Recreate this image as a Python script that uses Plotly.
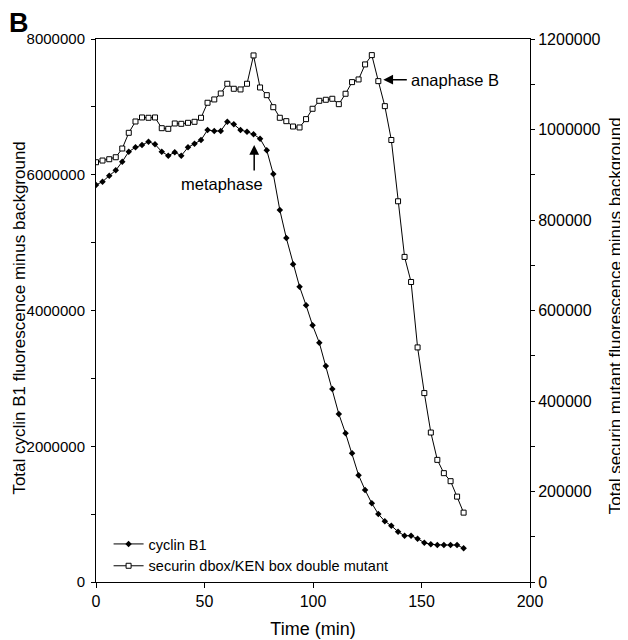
import plotly.graph_objects as go

# time points (min), one frame roughly every 3 min
time_min = [0, 3, 6.1, 9.1, 12.1, 15.1, 18.2, 21.2, 24.2, 27.2, 30.3, 33.3, 36.3, 39.3,
            42.4, 45.4, 48.4, 51.4, 54.5, 57.5, 60.5, 63.5, 66.6, 69.6, 72.6, 75.6, 78.7,
            81.7, 84.7, 87.7, 90.8, 93.8, 96.8, 99.8, 102.9, 105.9, 108.9, 111.9, 115.0,
            118.0, 121.0, 124.0, 127.1, 130.1, 133.1, 136.1, 139.2, 142.2, 145.2, 148.2,
            151.3, 154.3, 157.3, 160.3, 163.4, 166.4, 169.4]

cyclin_b1 = [5849000, 5898000, 5986000, 6065000, 6193000, 6340000, 6404000, 6438000,
             6487000, 6448000, 6340000, 6281000, 6331000, 6281000, 6404000, 6458000,
             6512000, 6659000, 6645000, 6645000, 6782000, 6743000, 6659000, 6634000,
             6596000, 6531000, 6360000, 6010000, 5481000, 5068000, 4681000, 4351000,
             4077000, 3782000, 3526000, 3182000, 2845000, 2475000, 2191000, 1896000,
             1574000, 1355000, 1159000, 1002000, 894000, 829000, 741000, 682000,
             682000, 638000, 579000, 555000, 545000, 545000, 545000, 545000, 496000]

securin_mutant = [927700, 931400, 934300, 938700, 958000, 992700, 1017700, 1026600,
                  1025900, 1026600, 1002900, 1001500, 1013300, 1012600, 1014800, 1017000,
                  1025900, 1059100, 1066400, 1079600, 1101100, 1090000, 1088500, 1101100,
                  1163700, 1092900, 1075900, 1049300, 1025900, 1018400, 1006600, 1004500,
                  1022900, 1045800, 1063400, 1065700, 1067900, 1056000, 1079000, 1104700,
                  1110600, 1143800, 1164400, 1106900, 1051600, 976800, 841400, 718400,
                  663000, 518400, 417500, 330300, 269900, 240500, 222800, 188700, 153300]

FONT = "Liberation Sans"

fig = go.Figure()

fig.add_trace(go.Scatter(x=time_min, y=cyclin_b1, name="cyclin B1", mode="lines+markers",
                         line=dict(color="black", width=1),
                         marker=dict(symbol="diamond", size=5, color="black")))

fig.add_trace(go.Scatter(x=time_min, y=securin_mutant, name="securin dbox/KEN box double mutant",
                         mode="lines+markers", yaxis="y2",
                         line=dict(color="black", width=1),
                         marker=dict(symbol="square", size=5, color="white",
                                     line=dict(color="black", width=1))))

# the page body adds 8px, so the margins are shifted by that
fig.update_layout(
    width=628, height=640,
    margin=dict(l=88, r=106, t=31, b=66),
    plot_bgcolor="white", paper_bgcolor="white",
    font=dict(family=FONT, size=15, color="black"),
    showlegend=True,
    legend=dict(x=0.029, y=0.0, xanchor="left", yanchor="bottom",
                bgcolor="rgba(0,0,0,0)", font=dict(size=14.5), tracegroupgap=0),
    xaxis=dict(range=[0, 200], tickvals=[0, 50, 100, 150, 200], showgrid=False, zeroline=False,
               showline=True, linecolor="black", linewidth=1, mirror=True, automargin=False,
               ticks="outside", ticklen=5, tickcolor="black", tickfont=dict(size=16),
               title=dict(text="Time (min)", standoff=13)),
    yaxis=dict(range=[0, 8000000], dtick=2000000, tickformat="d", showgrid=False, zeroline=False,
               showline=True, linecolor="black", linewidth=1, automargin=False,
               ticks="outside", ticklen=4, tickcolor="black", tickfont=dict(size=15),
               ticklabelstandoff=3,
               minor=dict(dtick=1000000, ticks="outside", ticklen=4, tickcolor="black")),
    yaxis2=dict(range=[0, 1200000], dtick=200000, tickformat="d", overlaying="y", side="right",
                showgrid=False, zeroline=False, automargin=False,
                showline=True, linecolor="black", linewidth=1,
                ticks="outside", ticklen=4, tickcolor="black", tickfont=dict(size=16),
                minor=dict(dtick=100000, ticks="outside", ticklen=4, tickcolor="black")),
)

# y-axis titles as rotated annotations so they can sit right at the edges
fig.add_annotation(text="Total cyclin B1 fluorescence minus background", textangle=-90,
                   xref="paper", yref="paper", x=-0.2028, y=0.486, xanchor="left", yanchor="middle",
                   showarrow=False, font=dict(family=FONT, size=17, color="black"))
fig.add_annotation(text="Total securin mutant fluorescence minus background", textangle=-90,
                   xref="paper", yref="paper", x=1.199, y=0.49, xanchor="center", yanchor="middle",
                   showarrow=False, font=dict(family=FONT, size=17, color="black"))

# panel letter
fig.add_annotation(text="<b>B</b>", xref="paper", yref="paper", x=-0.205, y=1.06,
                   xanchor="left", yanchor="top", showarrow=False,
                   font=dict(size=27, family=FONT))

# metaphase arrow + label
fig.add_annotation(x=72.9, y=6438000, xref="x", yref="y", text="", showarrow=True,
                   ax=0, ay=27, arrowhead=2, arrowsize=1.3, arrowwidth=1.5, arrowcolor="black")
fig.add_annotation(x=58.1, y=5864000, xref="x", yref="y", text="metaphase", showarrow=False,
                   font=dict(size=16.5))

# anaphase B arrow + label
fig.add_annotation(x=132.4, y=1110000, xref="x", yref="y2", text="", showarrow=True,
                   ax=25, ay=0, arrowhead=2, arrowsize=1.3, arrowwidth=1.5, arrowcolor="black")
fig.add_annotation(x=144.4, y=1110000, xref="x", yref="y2", text="anaphase B", showarrow=False,
                   xanchor="left", font=dict(size=16.5))

fig.write_html("out.html")
